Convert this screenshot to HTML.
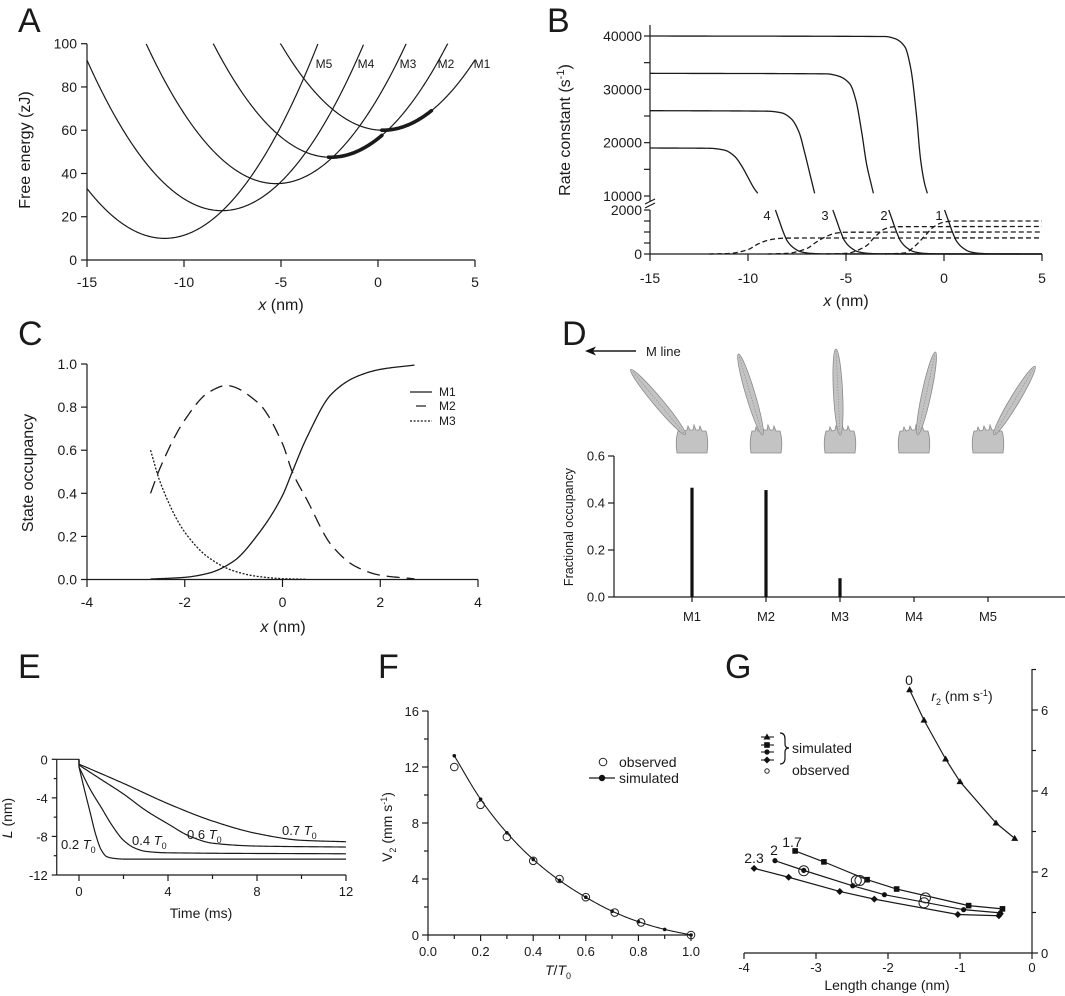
<!DOCTYPE html>
<html><head><meta charset="utf-8"><style>
html,body{margin:0;padding:0;background:#fff}
svg{display:block;font-family:"Liberation Sans",Arial,sans-serif}
</style></head><body>
<svg id="fig" width="1065" height="996" viewBox="0 0 1065 996"></svg>
<script>
// ===== Panel A data =====
const aLabels=["M1","M2","M3","M4","M5"];
const aMinX=[0.25,-2.45,-5.25,-8.05,-11];
const aMinE=[60,47.5,35.3,22.8,10];
const aStiff=[1.44,1.44,1.44,1.44,1.44];
const aThickCurve=[1,0];
const aThickFrom=[-2.55,0.2];
const aThickTo=[0.2,2.78];
const aXTicks=[-15,-10,-5,0,5];
const aYTicks=[0,20,40,60,80,100];
// ===== Panel B data =====
const bXTicks=[-15,-10,-5,0,5];
const bUpperLabels=["1","2","3","4"];
const bUp1X=[-15,-3,-2.5,-2,-1.7,-1.4,-1.2,-1.0,-0.85];
const bUp1Y=[40000,39900,39500,38000,34000,25000,17000,12500,10500];
const bUp2X=[-15,-6,-5.4,-4.8,-4.5,-4.2,-3.95,-3.7,-3.6];
const bUp2Y=[33000,32900,32500,31000,28000,22000,16000,12000,10500];
const bUp3X=[-15,-9,-8.3,-7.8,-7.4,-7.1,-6.8,-6.6];
const bUp3Y=[26000,25900,25600,24500,22000,18000,13500,10500];
const bUp4X=[-15,-12,-11.2,-10.7,-10.3,-10,-9.7,-9.5];
const bUp4Y=[19000,18950,18600,17500,15500,13500,11500,10500];
const bLo1X=[0.03,0.23,0.43,0.63,0.93,1.33,1.83,2.53,5];
const bLo1Y=[2000,1500,1000,600,300,100,30,5,0];
const bLo2X=[-2.82,-2.62,-2.42,-2.22,-1.92,-1.52,-1.02,-0.32,5];
const bLo2Y=[2000,1500,1000,600,300,100,30,5,0];
const bLo3X=[-5.67,-5.47,-5.27,-5.07,-4.77,-4.37,-3.87,-3.17,5];
const bLo3Y=[2000,1500,1000,600,300,100,30,5,0];
const bLo4X=[-8.6,-8.4,-8.2,-8.0,-7.7,-7.3,-6.8,-6.1,5];
const bLo4Y=[2000,1500,1000,600,300,100,30,5,0];
const bDa1X=[-12,-11,-10,-9.5,-9,-8.5,-8,5];
const bDa1Y=[0,20,200,450,620,700,725,730];
const bDa2X=[-9,-8,-7,-6.5,-6,-5.5,-5,5];
const bDa2Y=[0,30,250,550,800,950,990,1000];
const bDa3X=[-6,-5,-4,-3.5,-3,-2.5,5];
const bDa3Y=[0,30,350,800,1150,1240,1250];
const bDa4X=[-3,-2,-1.5,-1,-0.5,0,0.5,5];
const bDa4Y=[0,50,350,800,1250,1450,1500,1500];
// ===== Panel C data =====
const cM1X=[-2.7,-2,-1.5,-1,-0.5,0,0.2,0.5,1,1.5,2,2.7];
const cM1Y=[0.002,0.01,0.03,0.085,0.21,0.39,0.5,0.66,0.86,0.94,0.975,0.995];
const cM2X=[-2.7,-2.5,-2,-1.5,-1.15,-0.5,0,0.2,0.5,1,1.5,2,2.7];
const cM2Y=[0.4,0.52,0.74,0.87,0.9,0.82,0.63,0.5,0.37,0.16,0.06,0.02,0.003];
const cM3X=[-2.7,-2.5,-2,-1.5,-1,-0.5,0,0.5];
const cM3Y=[0.6,0.45,0.22,0.1,0.04,0.014,0.004,0.001];
// ===== Panel D data =====
const dCats=["M1","M2","M3","M4","M5"];
const dVals=[0.465,0.455,0.08,0,0];
// ===== Panel E data =====
const eLabels=["0.2","0.4","0.6","0.7"];
const eT02=[0,0.25,0.5,0.75,1.0,1.25,1.5,2,4,12];
const eL02=[-0.8,-3.2,-5.5,-7.8,-9.4,-10.1,-10.25,-10.35,-10.35,-10.35];
const eT04=[0,0.5,1,1.5,2,2.5,3,4,12];
const eL04=[-0.8,-3.1,-5.0,-6.9,-8.4,-9.2,-9.55,-9.7,-9.8];
const eT06=[0,1,2,3,4,5,6,8,12];
const eL06=[-0.6,-2.1,-3.6,-5.3,-6.7,-8.0,-8.7,-9.0,-9.1];
const eT07=[0,2,4,6,8,10,12];
const eL07=[-0.5,-2.5,-4.6,-6.4,-7.7,-8.4,-8.55];
// ===== Panel F data =====
const fSimX=[0.1,0.2,0.3,0.4,0.5,0.6,0.7,0.8,0.9,1.0];
const fSimY=[12.8,9.7,7.3,5.4,3.9,2.7,1.7,0.95,0.4,0];
const fObsX=[0.1,0.2,0.3,0.4,0.5,0.6,0.71,0.81,1.0];
const fObsY=[12.0,9.3,7.0,5.3,4.0,2.7,1.6,0.9,0];
// ===== Panel G data =====
const gTriX=[-1.7,-1.5,-1.2,-1.0,-0.5,-0.24];
const gTriY=[6.5,5.75,4.79,4.23,3.21,2.83];
const gSqX=[-3.29,-2.89,-2.29,-1.88,-0.88,-0.41];
const gSqY=[2.52,2.25,1.81,1.58,1.17,1.09];
const gCirX=[-3.57,-3.17,-2.49,-2.05,-0.95,-0.44];
const gCirY=[2.28,2.04,1.66,1.44,1.07,0.99];
const gDiaX=[-3.86,-3.38,-2.67,-2.19,-1.03,-0.46,-0.44];
const gDiaY=[2.09,1.87,1.52,1.33,0.95,0.92,0.97];
const gObsX=[-3.17,-2.44,-2.39,-1.48,-1.5];
const gObsY=[2.03,1.79,1.79,1.36,1.24];

const NS="http://www.w3.org/2000/svg";
const svg=document.getElementById('fig');
function el(tag,attrs,name,parent){
  const e=document.createElementNS(NS,tag);
  for(const k in attrs) e.setAttribute(k,attrs[k]);
  
  
  (parent||svg).appendChild(e);
  return e;
}
function lin(d0,d1,p0,p1){return v=>p0+(v-d0)*(p1-p0)/(d1-d0);}
function ln(x1,y1,x2,y2,name,w,extra){const a={x1,y1,x2,y2,stroke:'#1a1a1a','stroke-width':w||1.2};Object.assign(a,extra||{});return el('line',a,name);}
function tx(x,y,s,size,anchor,name,extra){const a={x,y,'font-size':size,'text-anchor':anchor||'middle',fill:'#1a1a1a'};Object.assign(a,extra||{});const t=el('text',a,name);t.innerHTML=s;return t;}
function poly(xs,ys,sx,sy,name,extra){let d='';for(let i=0;i<xs.length;i++)d+=(i?'L':'M')+sx(xs[i]).toFixed(2)+','+sy(ys[i]).toFixed(2);const a={d,fill:'none',stroke:'#1a1a1a','stroke-width':1.3,'stroke-linejoin':'round'};Object.assign(a,extra||{});return el('path',a,name);}
function smooth(xs,ys,sx,sy,name,extra){
  const n=xs.length,h=[],dl=[],m=new Array(n).fill(0);
  for(let i=0;i<n-1;i++){h[i]=xs[i+1]-xs[i];dl[i]=(ys[i+1]-ys[i])/h[i];}
  m[0]=dl[0];m[n-1]=dl[n-2];
  for(let i=1;i<n-1;i++){
    if(dl[i-1]*dl[i]<=0)m[i]=0;
    else{const w1=2*h[i]+h[i-1],w2=h[i]+2*h[i-1];m[i]=(w1+w2)/(w1/dl[i-1]+w2/dl[i]);}
  }
  for(let i=0;i<n-1;i++){if(dl[i]===0){m[i]=0;m[i+1]=0;}}
  let d='';
  for(let i=0;i<n-1;i++){
    const N=30;
    for(let k=(i?1:0);k<=N;k++){
      const t=k/N,t2=t*t,t3=t2*t;
      const y=(2*t3-3*t2+1)*ys[i]+(t3-2*t2+t)*h[i]*m[i]+(-2*t3+3*t2)*ys[i+1]+(t3-t2)*h[i]*m[i+1];
      const x=xs[i]+t*h[i];
      d+=(d?'L':'M')+sx(x).toFixed(2)+','+sy(y).toFixed(2);
    }
  }
  const a={d,fill:'none',stroke:'#1a1a1a','stroke-width':1.3,'stroke-linejoin':'round'};Object.assign(a,extra||{});return el('path',a,name);
}

// ===== Panel A =====
tx(18,32,'A',34,'start','panel-a-label');
{
const sx=lin(-15,5,87,475), sy=lin(0,100,260,43.7);
ln(87,43.7,87,260,'a-y-axis');ln(87,260,475,260,'a-x-axis');
aYTicks.forEach(v=>{ln(81,sy(v),87,sy(v),'a-y-tick');tx(77,sy(v)+5,String(v),14,'end','a-y-tick-label');});
aXTicks.forEach(v=>{ln(sx(v),260,sx(v),267,'a-x-tick');tx(sx(v),287,String(v),14,'middle','a-x-tick-label');});
tx(30,150,'Free energy (zJ)',16,'middle','a-y-axis-title',{transform:'rotate(-90 30 150)'});
tx(281,310,'<tspan font-style="italic">x</tspan> (nm)',16,'middle','a-x-axis-title');
const E=(i,x)=>aMinE[i]+aStiff[i]*(x-aMinX[i])*(x-aMinX[i]);
for(let i=0;i<5;i++){
  const xs=[],ys=[];
  for(let x=-15;x<=5.0001;x+=0.05){const e=E(i,x);if(e<=100.5){xs.push(x);ys.push(Math.min(e,100));}}
  poly(xs,ys,sx,sy,'parabola-'+aLabels[i].toLowerCase(),{'stroke-width':1.2});
}
for(let k=0;k<aThickCurve.length;k++){
  const i=aThickCurve[k],xs=[],ys=[];
  for(let x=aThickFrom[k];x<=aThickTo[k]+1e-6;x+=0.05){xs.push(x);ys.push(E(i,x));}
  poly(xs,ys,sx,sy,'thick-path-segment',{'stroke-width':3.6,'stroke-linecap':'round'});
}
const lx=[324,366,408,446,482];
for(let i=4;i>=0;i--) tx(lx[4-i],68,aLabels[i],12,'middle','a-curve-label-'+aLabels[i].toLowerCase());
}

// ===== Panel B =====
tx(547,32,'B',34,'start','panel-b-label');
{
const sx=lin(-15,5,650,1042), su=lin(10000,40000,196,36), sl=lin(0,2000,254,210);
ln(650,210,650,254,'b-y-axis-lower');ln(650,25,650,201,'b-y-axis-upper');
ln(645,208,655,203,'b-axis-break',1.2);ln(645,204,655,199,'b-axis-break',1.2);
ln(650,254,1042,254,'b-x-axis');
[10000,15000,20000,25000,30000,35000,40000].forEach(v=>{ln(644,su(v),650,su(v),'b-y-tick');});
[10000,20000,30000,40000].forEach(v=>tx(642,su(v)+5,String(v),14,'end','b-y-tick-label'));
[0,500,1000,1500,2000].forEach(v=>ln(644,sl(v),650,sl(v),'b-y-tick'));
[0,2000].forEach(v=>tx(642,sl(v)+5,String(v),14,'end','b-y-tick-label'));
bXTicks.forEach(v=>{ln(sx(v),254,sx(v),261,'b-x-tick');tx(sx(v),283,String(v),14,'middle','b-x-tick-label');});
tx(570,130,'Rate constant (s<tspan dy="-6" font-size="11">-1</tspan><tspan dy="6">)</tspan>',16,'middle','b-y-axis-title',{transform:'rotate(-90 570 130)'});
tx(846,306,'<tspan font-style="italic">x</tspan> (nm)',16,'middle','b-x-axis-title');
smooth(bUp1X,bUp1Y,sx,su,'rate-upper-1');smooth(bUp2X,bUp2Y,sx,su,'rate-upper-2');
smooth(bUp3X,bUp3Y,sx,su,'rate-upper-3');smooth(bUp4X,bUp4Y,sx,su,'rate-upper-4');
smooth(bLo1X,bLo1Y,sx,sl,'rate-lower-1');smooth(bLo2X,bLo2Y,sx,sl,'rate-lower-2');
smooth(bLo3X,bLo3Y,sx,sl,'rate-lower-3');smooth(bLo4X,bLo4Y,sx,sl,'rate-lower-4');
const dash={'stroke-dasharray':'5,3'};
smooth(bDa1X,bDa1Y,sx,sl,'rate-reverse-dashed-4',dash);smooth(bDa2X,bDa2Y,sx,sl,'rate-reverse-dashed-3',dash);
smooth(bDa3X,bDa3Y,sx,sl,'rate-reverse-dashed-2',dash);smooth(bDa4X,bDa4Y,sx,sl,'rate-reverse-dashed-1',dash);
const lxs=[939,884,825,767];
bUpperLabels.forEach((l,i)=>tx(lxs[i],220,l,13,'middle','b-curve-label-'+l));
}

// ===== Panel C =====
tx(18,345,'C',34,'start','panel-c-label');
{
const sx=lin(-4,4,87,478), sy=lin(0,1,579.5,364);
ln(87,364,87,579.5,'c-y-axis');ln(87,579.5,478,579.5,'c-x-axis');
[0,0.2,0.4,0.6,0.8,1.0].forEach(v=>{ln(81,sy(v),87,sy(v),'c-y-tick');tx(77,sy(v)+5,v.toFixed(1),14,'end','c-y-tick-label');});
[-4,-2,0,2,4].forEach(v=>{ln(sx(v),579.5,sx(v),587,'c-x-tick');tx(sx(v),607,String(v),14,'middle','c-x-tick-label');});
tx(33,473,'State occupancy',16,'middle','c-y-axis-title',{transform:'rotate(-90 33 473)'});
tx(283,632,'<tspan font-style="italic">x</tspan> (nm)',16,'middle','c-x-axis-title');
smooth(cM1X,cM1Y,sx,sy,'occupancy-m1');
smooth(cM2X,cM2Y,sx,sy,'occupancy-m2',{'stroke-dasharray':'13,7'});
smooth(cM3X,cM3Y,sx,sy,'occupancy-m3',{'stroke-dasharray':'2,1.6'});
ln(410,392,432,392,'legend-m1-line');tx(439,396,'M1',12,'start','legend-m1-label');
ln(416,406,426,406,'legend-m2-line');tx(439,410,'M2',12,'start','legend-m2-label');
ln(410,421,432,421,'legend-m3-line',1.2,{'stroke-dasharray':'2,1.6'});tx(439,425,'M3',12,'start','legend-m3-label');
}

// ===== Panel D =====
tx(562,345,'D',34,'start','panel-d-label');
{
const sy=lin(0,0.6,597,456);
const bx=i=>692+i*74;
ln(614,456,614,597,'d-y-axis');ln(614,597,1065,597,'d-x-axis');
[0,0.2,0.4,0.6].forEach(v=>{ln(608,sy(v),614,sy(v),'d-y-tick');tx(605,sy(v)+4.5,v.toFixed(1),13,'end','d-y-tick-label');});
tx(573,527,'Fractional occupancy',12.5,'middle','d-y-axis-title',{transform:'rotate(-90 573 527)'});
dCats.forEach((c,i)=>{
  ln(bx(i),597,bx(i),602,'d-x-tick');
  tx(bx(i),621,c,13,'middle','d-x-tick-label-'+c.toLowerCase());
  if(dVals[i]>0) el('rect',{x:bx(i)-1.6,y:sy(dVals[i]),width:3.2,height:597-sy(dVals[i]),fill:'#111'},'occupancy-bar-'+c.toLowerCase());
});
ln(592,351,636,351,'m-line-arrow-shaft',1.4);
el('path',{d:'M585,351 L596,346.5 L593,351 L596,355.5 Z',fill:'#111'},'m-line-arrowhead');
tx(646,356,'M line',13,'start','m-line-label');
const pivDx=[-8,-4,0,4,7], tipDx=[-60,-27,-4,21,46], tipY=[371,356,351,354,368];
for(let i=0;i<5;i++){
  const cx=bx(i), g=el('g',{},'myosin-head-'+dCats[i].toLowerCase());
  const px=cx+pivDx[i], py=433, qx=cx+tipDx[i], qy=tipY[i];
  const mx=(px+qx)/2,my=(py+qy)/2,L=Math.hypot(qx-px,qy-py),ang=Math.atan2(qy-py,qx-px)*180/Math.PI;
  el('path',{d:`M${cx-15},453 Q${cx-17},441 ${cx-14},431 L${cx-11},431 L${cx-10},427 L${cx-8},431 L${cx-5},430 L${cx-4},426 L${cx-2},430 L${cx+1},430 L${cx+2},425 L${cx+4},430 L${cx+7},430 L${cx+8},426 L${cx+10},431 L${cx+14},431 Q${cx+17},441 ${cx+15},453 Z`,fill:'#c3c3c3',stroke:'#8a8a8a','stroke-width':0.8},'motor-domain',g);
  el('ellipse',{cx:mx,cy:my,rx:L/2+2,ry:4.6,transform:`rotate(${ang} ${mx} ${my})`,fill:'#c3c3c3',stroke:'#8a8a8a','stroke-width':0.8},'lever-arm',g);
  el('line',{x1:px,y1:py,x2:qx,y2:qy,stroke:'#8a8a8a','stroke-width':0.6,'stroke-dasharray':'1.5,1.5'},'lever-axis',g);
}
}

// ===== Panel E =====
tx(18,678,'E',34,'start','panel-e-label');
{
const sx=lin(0,12,79,346), sy=lin(-12,0,875,759.3);
const x0=sx(-1);
ln(x0,759.3,x0,875,'e-y-axis');ln(x0,875,346,875,'e-x-axis');
[0,-2,-4,-6,-8,-10,-12].forEach(v=>ln(v%4===0?x0-5:x0-3,sy(v),x0,sy(v),'e-y-tick'));
[0,-4,-8,-12].forEach(v=>tx(x0-9,sy(v)+5,String(v),13,'end','e-y-tick-label'));
[0,2,4,6,8,10,12].forEach(v=>ln(sx(v),875,sx(v),v%4===0?881:879,'e-x-tick'));
[0,4,8,12].forEach(v=>tx(sx(v),896,String(v),13,'middle','e-x-tick-label'));
tx(12,818,'<tspan font-style="italic">L</tspan> (nm)',14,'middle','e-y-axis-title',{transform:'rotate(-90 12 818)'});
tx(201,918,'Time (ms)',14,'middle','e-x-axis-title');
const sets=[[eT02,eL02],[eT04,eL04],[eT06,eL06],[eT07,eL07]];
sets.forEach((s,i)=>{
  smooth(s[0],s[1],sx,sy,'length-trace-'+eLabels[i]+'t0',{'stroke-width':1.2});
  ln(sx(0),sy(0),sx(0),sy(s[1][0]),'step-drop',1.2);
});
ln(x0,759.3,sx(0),759.3,'pre-step-baseline',1.2);
const lp=[[61,849],[132,845],[187,839],[282,835]];
eLabels.forEach((l,i)=>tx(lp[i][0],lp[i][1],l+' <tspan font-style="italic">T</tspan><tspan dy="4" font-size="9">0</tspan>',13,'start','e-trace-label-'+l));
}

// ===== Panel F =====
tx(378,678,'F',34,'start','panel-f-label');
{
const sx=lin(0,1,428,691), sy=lin(0,16,935,711);
ln(428,711,428,935,'f-y-axis');ln(428,935,691,935,'f-x-axis');
[0,2,4,6,8,10,12,14,16].forEach(v=>ln(v%4===0?422:424,sy(v),428,sy(v),'f-y-tick'));
[0,4,8,12,16].forEach(v=>tx(419,sy(v)+5,String(v),13,'end','f-y-tick-label'));
[0,0.1,0.2,0.3,0.4,0.5,0.6,0.7,0.8,0.9,1].forEach((v,i)=>ln(sx(v),935,sx(v),i%2===0?941:939,'f-x-tick'));
[0,0.2,0.4,0.6,0.8,1].forEach(v=>tx(sx(v),956,v.toFixed(1),13,'middle','f-x-tick-label'));
tx(392,827,'V<tspan dy="4" font-size="9">2</tspan><tspan dy="-4"> (mm s</tspan><tspan dy="-5" font-size="9">-1</tspan><tspan dy="5">)</tspan>',14,'middle','f-y-axis-title',{transform:'rotate(-90 392 827)'});
tx(558,975,'<tspan font-style="italic">T</tspan>/<tspan font-style="italic">T</tspan><tspan dy="4" font-size="9">0</tspan>',14,'middle','f-x-axis-title');
smooth(fSimX,fSimY,sx,sy,'simulated-line',{'stroke-width':1.1});
fSimX.forEach((x,i)=>el('circle',{cx:sx(x),cy:sy(fSimY[i]),r:1.8,fill:'#111'},'simulated-point'));
fObsX.forEach((x,i)=>el('circle',{cx:sx(x),cy:sy(fObsY[i]),r:3.8,fill:'none',stroke:'#222','stroke-width':1},'observed-point'));
el('circle',{cx:603,cy:762,r:3.8,fill:'none',stroke:'#222','stroke-width':1},'legend-observed-marker');
tx(619,767,'observed',14,'start','legend-observed-label');
ln(589,778,615,778,'legend-simulated-line',1.2);
el('circle',{cx:602,cy:778,r:3.2,fill:'#111'},'legend-simulated-marker');
tx(619,783,'simulated',14,'start','legend-simulated-label');
}

// ===== Panel G =====
tx(725,678,'G',34,'start','panel-g-label');
{
const sx=lin(-4,0,744,1032), sy=lin(0,6,953,710);
ln(1032,669,1032,953,'g-y-axis');ln(744,953,1032,953,'g-x-axis');
[0,1,2,3,4,5,6,7].forEach(v=>ln(1032,sy(v),v%2===0?1038:1036,sy(v),'g-y-tick'));
[0,2,4,6].forEach(v=>tx(1041,sy(v)+5,String(v),13,'start','g-y-tick-label'));
[-4,-3,-2,-1,0].forEach(v=>{ln(sx(v),953,sx(v),959,'g-x-tick');tx(sx(v),972,String(v),13,'middle','g-x-tick-label');});
tx(887,990,'Length change (nm)',14,'middle','g-x-axis-title');
tx(962,701,'<tspan font-style="italic">r</tspan><tspan dy="4" font-size="9">2</tspan><tspan dy="-4"> (nm s</tspan><tspan dy="-5" font-size="9">-1</tspan><tspan dy="5">)</tspan>',14,'middle','g-y-axis-title');
const lw={'stroke-width':1.2};
poly(gTriX,gTriY,sx,sy,'series-0-line',lw);poly(gSqX,gSqY,sx,sy,'series-1-7-line',lw);
poly(gCirX,gCirY,sx,sy,'series-2-line',lw);poly(gDiaX.slice(0,6),gDiaY.slice(0,6),sx,sy,'series-2-3-line',lw);
const tri=(x,y,n)=>el('path',{d:`M${x},${y-3.5}L${x+3.5},${y+2.5}L${x-3.5},${y+2.5}Z`,fill:'#111'},n);
const sq=(x,y,n)=>el('rect',{x:x-2.8,y:y-2.8,width:5.6,height:5.6,fill:'#111'},n);
const dia=(x,y,n)=>el('path',{d:`M${x},${y-3.5}L${x+3.5},${y}L${x},${y+3.5}L${x-3.5},${y}Z`,fill:'#111'},n);
gTriX.forEach((x,i)=>tri(sx(x),sy(gTriY[i]),'triangle-point'));
gSqX.forEach((x,i)=>sq(sx(x),sy(gSqY[i]),'square-point'));
gCirX.forEach((x,i)=>el('circle',{cx:sx(x),cy:sy(gCirY[i]),r:2.6,fill:'#111'},'circle-point'));
gDiaX.forEach((x,i)=>dia(sx(x),sy(gDiaY[i]),'diamond-point'));
gObsX.forEach((x,i)=>el('circle',{cx:sx(x),cy:sy(gObsY[i]),r:5,fill:'none',stroke:'#222','stroke-width':1},'observed-point'));
tx(909,685,'0',14,'middle','series-label-0');
tx(792,847,'1.7',14,'middle','series-label-1-7');
tx(774,855,'2',14,'middle','series-label-2');
tx(754,863,'2.3',14,'middle','series-label-2-3');
[737,745,752,760].forEach(y=>ln(761,y,774,y,'legend-line',1.1));
tri(767,737,'legend-triangle');sq(767,745,'legend-square');
el('circle',{cx:767,cy:752,r:2.6,fill:'#111'},'legend-circle');dia(767,760,'legend-diamond');
el('circle',{cx:767,cy:771,r:2.2,fill:'none',stroke:'#222','stroke-width':1},'legend-observed-marker');
el('path',{d:'M780,733 Q785,733 785,739 L785,744 Q785,748 789,748 Q785,748 785,752 L785,758 Q785,764 780,764',fill:'none',stroke:'#111','stroke-width':1.2},'legend-brace');
tx(792,753,'simulated',14,'start','legend-simulated-label');
tx(792,775,'observed',14,'start','legend-observed-label');
}
</script>
</body></html>
